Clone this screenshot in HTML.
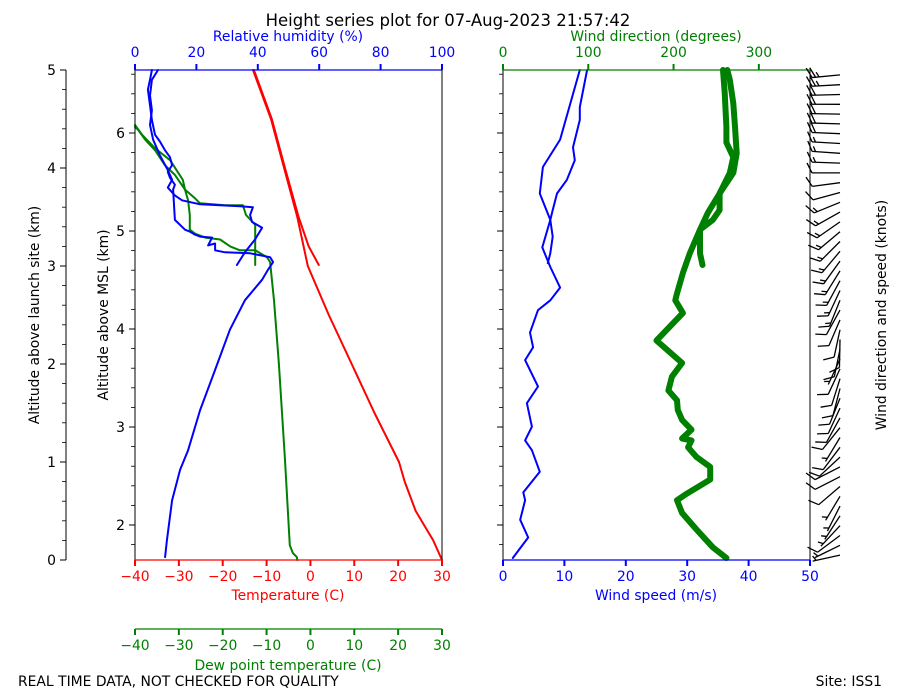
<!DOCTYPE html>
<html><head><meta charset="utf-8">
<style>
html,body{margin:0;padding:0;background:#fff;}
svg{display:block;font-family:"DejaVu Sans","Liberation Sans",sans-serif;}
</style></head>
<body>
<svg id="chart" width="900" height="700" viewBox="0 0 900 700" xmlns="http://www.w3.org/2000/svg">
<text x="448" y="26" font-size="16.5" text-anchor="middle">Height series plot for 07-Aug-2023 21:57:42</text>
<text x="288" y="41" font-size="13.9" fill="#0000ff" text-anchor="middle">Relative humidity (%)</text>
<text x="656" y="41" font-size="13.9" fill="#008000" text-anchor="middle">Wind direction (degrees)</text>
<text x="288" y="600" font-size="13.9" fill="#ff0000" text-anchor="middle">Temperature (C)</text>
<text x="288" y="670" font-size="13.9" fill="#008000" text-anchor="middle">Dew point temperature (C)</text>
<text x="656" y="600" font-size="13.9" fill="#0000ff" text-anchor="middle">Wind speed (m/s)</text>
<text transform="translate(39,315) rotate(-90)" font-size="13.9" text-anchor="middle">Altitude above launch site (km)</text>
<text transform="translate(108,315) rotate(-90)" font-size="13.9" text-anchor="middle">Altitude above MSL (km)</text>
<text transform="translate(886,315) rotate(-90)" font-size="13.9" text-anchor="middle">Wind direction and speed (knots)</text>
<text x="18" y="686" font-size="13.9">REAL TIME DATA, NOT CHECKED FOR QUALITY</text>
<text x="882" y="686" font-size="13.9" text-anchor="end">Site: ISS1</text>
<g id="g"></g>
</svg>
<script>
// ---- data (altitude above launch site, km) ----
const tempAscAlt=[0,0.2,0.5,0.8,1.0,1.5,2.0,2.5,3.0,3.5,4.0,4.5,5.0];
const tempAscVal=[30,28,24,21.5,20.2,14.6,9.4,4.2,-0.6,-3.0,-6.0,-9.0,-13.1];
const tempDesAlt=[5.0,4.5,4.0,3.5,3.2,3.01];
const tempDesVal=[-12.9,-8.8,-5.8,-2.7,-0.4,1.9];
const dewAscAlt=[0.0,0.03,0.07,0.15,1.02,2.0,2.65,3.04,3.09,3.16,3.16,3.2,3.27,3.29,3.33,3.37,3.52,3.67,3.78,3.93,4.03,4.18,4.29,4.39,4.42];
const dewAscVal=[-3.0,-3.1,-4.0,-4.7,-5.8,-7.2,-8.3,-9.2,-9.9,-12.6,-16.1,-18.3,-20.6,-24.0,-26.3,-27.5,-27.5,-27.9,-28.6,-30.9,-33.2,-35.4,-37.7,-39.3,-40];
const dewDesAlt=[4.44,4.34,4.2,4.08,3.88,3.78,3.69,3.64,3.62,3.62,3.52,3.42,3.01];
const dewDesVal=[-40,-38.4,-35.4,-32.0,-29.1,-28.6,-26.3,-25.2,-19.5,-15.4,-14.7,-12.6,-12.6];
const rhAscAlt=[0.03,0.2,0.61,0.92,1.12,1.53,1.94,2.35,2.65,2.86,2.96,3.04,3.09,3.13,3.14,3.16,3.23,3.21,3.29,3.3,3.32,3.35,3.37,3.47,3.78,3.83,3.9,3.96,4.03,4.11,4.18,4.27,4.34,4.49,4.64,4.8,4.9,5.0];
const rhAscVal=[9.8,10.4,12.1,14.7,17.3,21.2,26.1,30.9,35.8,41.4,43.3,45.0,44.0,37.5,29.3,26.1,26.1,23.8,25.1,21.2,19.5,17.9,16.3,13.0,12.4,13.0,11.4,10.7,12.1,11.4,9.8,8.1,6.5,5.5,4.9,4.2,4.9,5.5];
const rhDesAlt=[5.0,4.9,4.74,4.59,4.44,4.29,4.13,3.98,3.88,3.8,3.72,3.67,3.63,3.61,3.6,3.52,3.45,3.39,3.27,3.14,3.01];
const rhDesVal=[7.5,5.5,4.9,5.5,4.9,5.9,8.1,10.7,12.1,10.7,13.0,15.3,21.2,34.2,38.4,37.5,38.1,41.4,39.1,35.8,33.2];
const wsAscAlt=[0.02,0.23,0.41,0.61,0.69,0.9,1.12,1.22,1.36,1.6,1.77,2.04,2.17,2.32,2.55,2.65,2.78,2.99,3.19,3.47,3.74,4.01,4.29,5.0];
const wsAscVal=[1.6,4.1,2.8,3.6,3.3,6.0,4.7,3.6,4.7,3.9,5.7,3.6,4.9,4.4,5.7,7.7,9.3,7.7,6.4,7.7,6.0,6.5,9.3,12.5];
const wsDesAlt=[5.0,4.62,4.49,4.21,4.08,3.88,3.74,3.57,3.47,3.3,3.13,3.03];
const wsDesVal=[13.7,12.5,12.5,11.4,11.7,10.4,8.8,8.1,7.7,8.1,7.7,7.3];
const wdAscAlt=[0.02,0.13,0.31,0.48,0.61,0.68,0.82,0.95,1.05,1.15,1.22,1.24,1.33,1.43,1.53,1.63,1.73,1.87,2.01,2.24,2.52,2.65,2.72,2.93,3.13,3.37,3.54,3.74,3.95,4.15,4.42,4.66,4.9,5.0];
const wdAscVal=[262,246,227,210,204,216,243,243,227,217,221,210,221,210,205,204,194,198,210,180,211,202,204,211,219,231,240,254,270,274,272,270,266,263];
const wdDesAlt=[5.0,4.77,4.42,4.26,4.11,3.95,3.74,3.57,3.47,3.37,3.13,3.01];
const wdDesVal=[258,260,262,262,270,266,254,254,246,231,231,234];
const aglTicks=[0,1,2,3,4,5];
const mslTicks=[2,3,4,5,6];
const rhTicks=[0,20,40,60,80,100];
const tTicks=[-40,-30,-20,-10,0,10,20,30];
const wsTicks=[0,10,20,30,40,50];
const wdTicks=[0,100,200,300];
const mslOffset=1.643;

// ---- scales ----
const yA=a=>560-a*98;
const xT=t=>135+(t+40)*307/70;
const xRH=r=>135+r*3.07;
const xWS=s=>503+s*6.14;
const xWD=d=>503+d*307/360;
const NS='http://www.w3.org/2000/svg';
const G=document.getElementById('g');
function el(tag,attrs,parent){const e=document.createElementNS(NS,tag);for(const k in attrs)e.setAttribute(k,attrs[k]);(parent||G).appendChild(e);return e;}
function line(x1,y1,x2,y2,c,w){return el('line',{x1,y1,x2,y2,stroke:c,'stroke-width':w});}
function txt(x,y,s,c,anchor){const t=el('text',{x,y,fill:c,'font-size':13.9,'text-anchor':anchor||'middle'});t.textContent=s;return t;}
function series(alts,vals,xf,c,w,name){
  const pts=alts.map((a,i)=>xf(vals[i]).toFixed(1)+','+yA(a).toFixed(1)).join(' ');
  const p=el('polyline',{points:pts,fill:'none',stroke:c,'stroke-width':w,'stroke-linejoin':'round','stroke-linecap':'round'});
  
  
  return p;
}

// ---- series ----
series(tempAscAlt,tempAscVal,xT,'#ff0000',2,'temperature-ascent-line');
series(tempDesAlt,tempDesVal,xT,'#ff0000',2,'temperature-descent-line');
series(dewAscAlt,dewAscVal,xT,'#008000',2,'dewpoint-ascent-line');
series(dewDesAlt,dewDesVal,xT,'#008000',2,'dewpoint-descent-line');
series(rhAscAlt,rhAscVal,xRH,'#0000ff',2,'rh-ascent-line');
series(rhDesAlt,rhDesVal,xRH,'#0000ff',2,'rh-descent-line');
series(wsAscAlt,wsAscVal,xWS,'#0000ff',2,'wind-speed-ascent-line');
series(wsDesAlt,wsDesVal,xWS,'#0000ff',2,'wind-speed-descent-line');
series(wdAscAlt,wdAscVal,xWD,'#008000',6,'wind-direction-ascent-line');
series(wdDesAlt,wdDesVal,xWD,'#008000',6,'wind-direction-descent-line');

// ---- frames ----
line(135,70,135,560,'#000',1);line(442,70,442,560,'#000',1);
line(135,70,442,70,'#0000ff',1.2);line(135,560,442,560,'#ff0000',1.2);
line(503,70,503,560,'#000',1);line(810,70,810,560,'#000',1);
line(503,70,810,70,'#008000',1.2);line(503,560,810,560,'#0000ff',1.2);
line(66,70,66,560,'#000',1);
line(135,629,442,629,'#008000',1.2);

// AGL axis
aglTicks.forEach(a=>{line(60,yA(a),66,yA(a),'#000',1);txt(56,yA(a)+5,String(a),'#000','end');});
for(let a=0.2;a<5;a+=0.2){line(62,yA(a),66,yA(a),'#000',0.8);}
// MSL axis
mslTicks.forEach(m=>{const y=yA(m-mslOffset);line(129,y,135,y,'#000',1);txt(125,y+5,String(m),'#000','end');line(497,y,503,y,'#000',1);});
for(let m=1.8;m<6.7;m+=0.2){const a=m-mslOffset;if(a<0||a>5)continue;const y=yA(a);line(131,y,135,y,'#000',0.8);line(499,y,503,y,'#000',0.8);}
// RH ticks
rhTicks.forEach(r=>{line(xRH(r),64,xRH(r),70,'#0000ff',2);txt(xRH(r),57,String(r),'#0000ff');});
// temperature & dewpoint ticks
tTicks.forEach(t=>{const x=xT(t);const s=(t<0?'\u2212'+(-t):String(t));
  line(x,560,x,566,'#ff0000',2);txt(x,581,s,'#ff0000');
  line(x,629,x,635,'#008000',2);txt(x,650,s,'#008000');});
// wind speed ticks
wsTicks.forEach(s=>{line(xWS(s),560,xWS(s),566,'#0000ff',2);txt(xWS(s),581,String(s),'#0000ff');});
// wind direction ticks
wdTicks.forEach(d=>{line(xWD(d),64,xWD(d),70,'#008000',2);txt(xWD(d),57,String(d),'#008000');});

// ---- wind barbs (sampled from ascent wind arrays) ----
function interp(alts,vals,a){for(let i=0;i<alts.length-1;i++){if(a>=alts[i]&&a<=alts[i+1]){const f=(a-alts[i])/(alts[i+1]-alts[i]);return vals[i]+f*(vals[i+1]-vals[i]);}}return vals[vals.length-1];}
const barbG=el('g',{});


for(let a=0.05;a<5;a+=0.1){
  const d=interp(wdAscAlt,wdAscVal,a), s=interp(wsAscAlt,wsAscVal,a);
  const kt=Math.round(s*1.944/5)*5;
  const ox=840, oy=yA(a), L=28, th=d*Math.PI/180;
  const ux=Math.sin(th), uy=-Math.cos(th);
  const px=-uy, py=ux;
  const ex=ox+ux*L, ey=oy+uy*L;
  const b=el('g',{},barbG);
  
  
  el('line',{x1:ox,y1:oy,x2:ex,y2:ey,stroke:'#000','stroke-width':1.3},b);
  let full=Math.floor(kt/10), half=(kt%10)>=5?1:0, pos=0;
  for(let i=0;i<full;i++){const bx=ex-ux*pos, by=ey-uy*pos;
    el('line',{x1:bx,y1:by,x2:bx+px*10+ux*5,y2:by+py*10+uy*5,stroke:'#000','stroke-width':1.3},b);pos+=3.5;}
  if(half){if(full===0)pos=3.5;const bx=ex-ux*pos, by=ey-uy*pos;
    el('line',{x1:bx,y1:by,x2:bx+px*5+ux*2.5,y2:by+py*5+uy*2.5,stroke:'#000','stroke-width':1.3},b);}
}
</script>
</body></html>
